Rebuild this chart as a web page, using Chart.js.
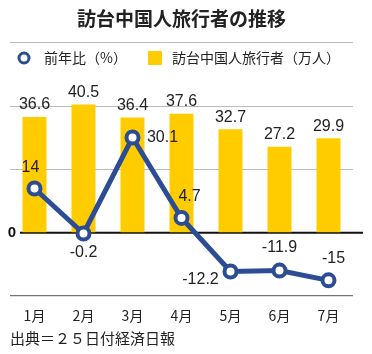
<!DOCTYPE html>
<html>
<head>
<meta charset="utf-8">
<script src="https://cdn.jsdelivr.net/npm/chart.js@4/dist/chart.umd.min.js"></script>
<style>
  html, body { margin: 0; padding: 0; background: #fff; }
  #wrap { width: 372px; height: 354px; }
</style>
</head>
<body>
<div id="wrap"><canvas id="chart"></canvas></div>
<script>
const months = ["1月", "2月", "3月", "4月", "5月", "6月", "7月"];
const visitors = [36.6, 40.5, 36.4, 37.6, 32.7, 27.2, 29.9];
const yoyChange = [14, -0.2, 30.1, 4.7, -12.2, -11.9, -15];
const titleText = "訪台中国人旅行者の推移";
const yoyLabel = "前年比（%）";
const visitorsLabel = "訪台中国人旅行者（万人）";
const sourceText = "出典＝２５日付経済日報";

const BLUE = "#2c4d94";
const YELLOW = "#ffcc00";
const JP = "'Noto Sans CJK JP', sans-serif";
const NUM = "'Liberation Sans', 'Noto Sans', sans-serif";

// offsets of the yoy labels from their points (dx, dy)
const yoyLabelOffset = [[-4, -21], [0, 19], [30, 0], [8, -21], [-30, 8], [0, -23], [5, -22]];

const extras = {
    id: "extras",
    beforeDatasetsDraw(chart) {
        const { ctx, chartArea } = chart;
        const y0 = chart.scales.y.getPixelForValue(0);
        ctx.save();
        // bottom rule
        ctx.strokeStyle = "#555";
        ctx.lineWidth = 1;
        ctx.beginPath();
        ctx.moveTo(chartArea.left, chartArea.bottom - 0.5);
        ctx.lineTo(chartArea.right, chartArea.bottom - 0.5);
        ctx.stroke();
        // zero line
        ctx.strokeStyle = "#111";
        ctx.lineWidth = 2;
        ctx.beginPath();
        ctx.moveTo(20, y0);
        ctx.lineTo(363, y0);
        ctx.stroke();
        ctx.fillStyle = "#111";
        ctx.font = "bold 15px " + NUM;
        ctx.textAlign = "center";
        ctx.textBaseline = "middle";
        ctx.fillText("0", 12, y0);
        ctx.restore();
    },
    afterDatasetsDraw(chart) {
        const { ctx } = chart;
        ctx.save();
        ctx.fillStyle = "#222";
        ctx.font = "16px " + NUM;
        ctx.textAlign = "center";
        ctx.textBaseline = "middle";

        chart.getDatasetMeta(1).data.forEach((bar, i) => {
            ctx.fillText(String(visitors[i]), bar.x, bar.y - 12);
        });
        chart.getDatasetMeta(0).data.forEach((pt, i) => {
            const [dx, dy] = yoyLabelOffset[i];
            ctx.fillText(String(yoyChange[i]), pt.x + dx, pt.y + dy);
        });

        // legend
        ctx.beginPath();
        ctx.arc(24, 58, 5, 0, Math.PI * 2);
        ctx.fillStyle = "#fff";
        ctx.fill();
        ctx.lineWidth = 3;
        ctx.strokeStyle = BLUE;
        ctx.stroke();
        ctx.fillStyle = YELLOW;
        ctx.fillRect(148, 51, 14, 14);
        ctx.fillStyle = "#222";
        ctx.font = "14px " + JP;
        ctx.textAlign = "left";
        ctx.fillText(yoyLabel, 44, 58);
        ctx.fillText(visitorsLabel, 172, 58);

        // source
        ctx.font = "15px " + JP;
        ctx.fillText(sourceText, 10, 338);
        ctx.restore();
    }
};

new Chart(document.getElementById("chart"), {
    data: {
        labels: months,
        datasets: [
            {
                type: "line",
                label: yoyLabel,
                data: yoyChange,
                order: 0,
                borderColor: BLUE,
                borderWidth: 5,
                pointRadius: 6,
                pointBorderWidth: 4,
                pointBackgroundColor: "#fff",
                pointBorderColor: BLUE,
                tension: 0
            },
            {
                type: "bar",
                label: visitorsLabel,
                data: visitors,
                order: 1,
                backgroundColor: YELLOW,
                categoryPercentage: 1,
                barPercentage: 0.49
            }
        ]
    },
    options: {
        responsive: true,
        maintainAspectRatio: false,
        animation: false,
        layout: { padding: { left: 10, right: 19, top: 0, bottom: 27 } },
        plugins: {
            legend: { display: false },
            tooltip: { enabled: false },
            title: {
                display: true,
                text: titleText,
                color: "#222",
                font: { family: JP, size: 19, weight: "bold" },
                padding: { top: 7, bottom: 13 }
            }
        },
        scales: {
            x: {
                grid: { display: false },
                border: { display: false },
                ticks: { color: "#222", font: { family: JP, size: 14 }, padding: 3 }
            },
            y: {
                min: -20,
                max: 60,
                border: { display: false },
                ticks: { display: false, stepSize: 20 },
                grid: {
                    drawTicks: false,
                    color: c => (c.tick.value === 0 || c.tick.value === -20) ? "rgba(0,0,0,0)" : "#bbb"
                }
            }
        }
    },
    plugins: [extras]
});
</script>
</body>
</html>
